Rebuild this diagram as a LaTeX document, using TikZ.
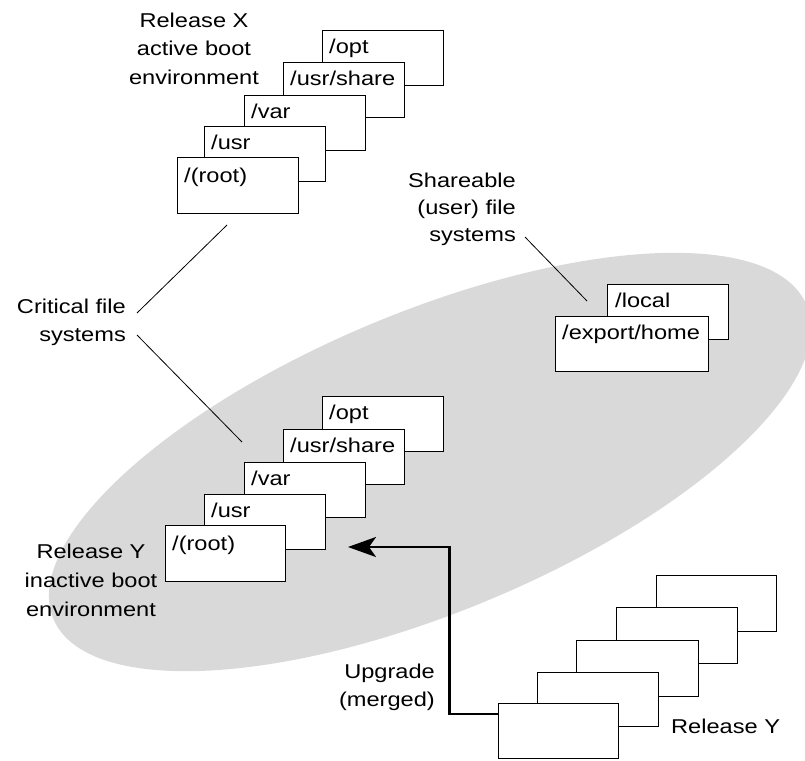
\documentclass[tikz,border=0pt]{standalone}
\usepackage{fontspec}
\setmainfont{Liberation Sans}[FakeStretch=1.18]
\usetikzlibrary{arrows.meta,calc}
\definecolor{ellgray}{RGB}{217,217,217}
\begin{document}
\begin{tikzpicture}[x=1pt,y=-1pt,
  fsbox/.style={draw, fill=white, line width=1.1pt, inner sep=0pt, outer sep=0pt,
    minimum width=121pt, minimum height=55pt, anchor=north west},
  lbl/.style={anchor=base west, inner sep=0pt, font=\fontsize{20}{23}\selectfont},
  txt/.style={inner sep=0pt, font=\fontsize{20}{28.5}\selectfont},
  leader/.style={line width=0.8pt},
  upg/.style={line width=2.5pt, -{Stealth[length=28pt,width=20pt,inset=7pt]}},
]
\useasboundingbox (0,0) rectangle (805,760);
\begin{scope}
  \clip (0,0) rectangle (805,760);
  \fill[ellgray, rotate around={22.6:(430,462)}] (430,462) ellipse [x radius=408pt, y radius=150pt];
\end{scope}

% leader lines
\coordinate (c1a) at (137,313); \coordinate (c1b) at (227,225);
\coordinate (c2a) at (137,335); \coordinate (c2b) at (242,442);
\coordinate (s1a) at (525,237); \coordinate (s1b) at (587,301);
\draw[leader] (c1a) -- (c1b);
\draw[leader] (c2a) -- (c2b);
\draw[leader] (s1a) -- (s1b);

% Release X stack
\node[fsbox] (X1) at (322.5,30.5) {};
\node[lbl] (X1t) at ($(X1.north west)+(6.5,23)$) {/opt};
\node[fsbox] (X2) at (283.5,62.5) {};
\node[lbl] (X2t) at ($(X2.north west)+(6.5,23)$) {/usr/share};
\node[fsbox] (X3) at (244.5,95.5) {};
\node[lbl] (X3t) at ($(X3.north west)+(6.5,23)$) {/var};
\node[fsbox] (X4) at (204.5,126.5) {};
\node[lbl] (X4t) at ($(X4.north west)+(6.5,23)$) {/usr};
\node[fsbox, minimum height=56pt] (X5) at (177.5,157.5) {};
\node[lbl] (X5t) at ($(X5.north west)+(6.5,25)$) {/(root)};

% Release Y (inactive) stack
\node[fsbox] (Y1) at (322.5,396.5) {};
\node[lbl] (Y1t) at ($(Y1.north west)+(6.5,23)$) {/opt};
\node[fsbox] (Y2) at (283.5,429.5) {};
\node[lbl] (Y2t) at ($(Y2.north west)+(6.5,23)$) {/usr/share};
\node[fsbox] (Y3) at (244.5,462.5) {};
\node[lbl] (Y3t) at ($(Y3.north west)+(6.5,23)$) {/var};
\node[fsbox] (Y4) at (204.5,494.5) {};
\node[lbl] (Y4t) at ($(Y4.north west)+(6.5,23)$) {/usr};
\node[fsbox, minimum width=120pt, minimum height=56pt] (Y5) at (165.5,525.5) {};
\node[lbl] (Y5t) at ($(Y5.north west)+(6.5,25)$) {/(root)};

% shareable
\node[fsbox] (S1) at (607.5,284.5) {};
\node[lbl] (S1t) at ($(S1.north west)+(7.5,22.5)$) {/local};
\node[fsbox, minimum width=153pt] (S2) at (555.5,316.5) {};
\node[lbl] (S2t) at ($(S2.north west)+(6.5,22.5)$) {/export/home};

% Release Y new stack
\node[fsbox, minimum width=120pt, minimum height=56pt] (R1) at (656.5,575.5) {};
\node[fsbox, minimum height=56pt] (R2) at (616.5,607.5) {};
\node[fsbox, minimum width=122pt, minimum height=56pt] (R3) at (576.5,640.5) {};
\node[fsbox, minimum height=54pt] (R4) at (537.5,672.5) {};
\node[fsbox, minimum width=120pt, minimum height=55pt] (R5) at (498.5,703.5) {};

% texts
\node[txt, anchor=north, align=center] (relX) at (194,12.7) {Release X\\active boot\\environment};
\node[txt, anchor=north east, align=right] (crit) at (126,298.4) {Critical file\\systems};
\node[txt, anchor=north east, align=right, font=\fontsize{20}{27}\selectfont] (share) at (516,173) {Shareable\\(user) file\\systems};
\node[txt, anchor=north, align=center, font=\fontsize{20}{29}\selectfont] (relYin) at (91,543.7) {Release Y\\inactive boot\\environment};
\node[txt, anchor=north east, align=right, font=\fontsize{20}{28}\selectfont] (upgt) at (435,663.7) {Upgrade\\(merged)};
\node[txt, anchor=base west] (relY) at (671,733) {Release Y};

% upgrade arrow
\coordinate (upstart) at (498.5,714);
\coordinate (bend) at (449.5,547);
\coordinate (uptip) at (348,547);
\draw[upg] (upstart) -| (bend) -- (uptip);
\end{tikzpicture}
\end{document}
